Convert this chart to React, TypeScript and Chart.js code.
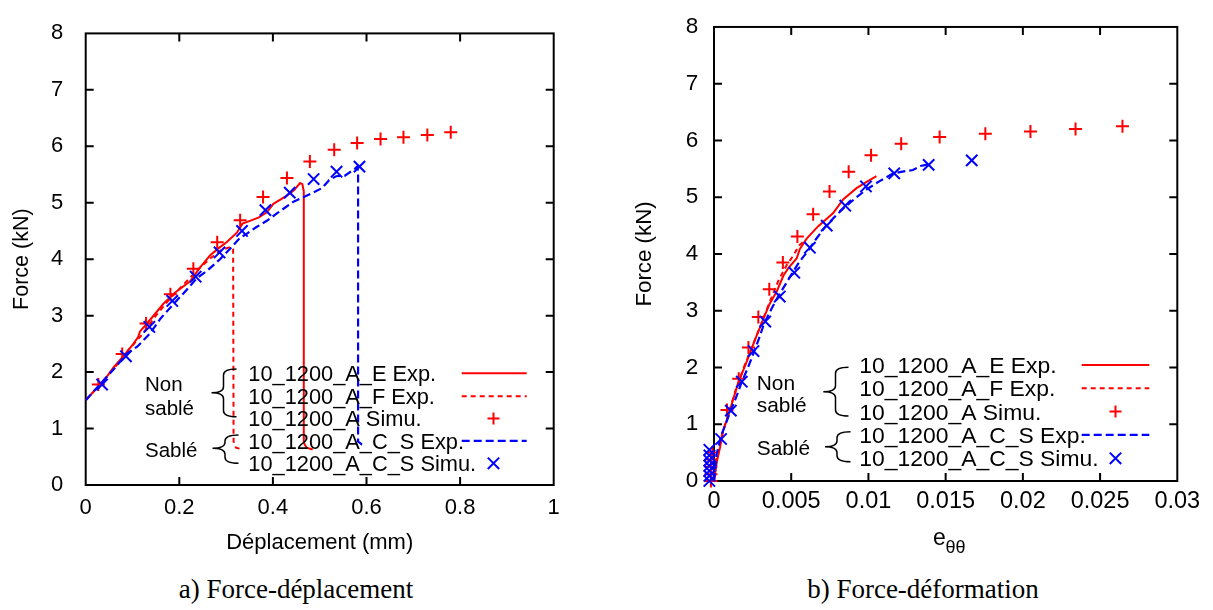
import React, { useEffect, useRef } from "react";
import { Chart, registerables } from "chart.js";
Chart.register(...registerables);

const SANS = "'Liberation Sans', Arial, Helvetica, sans-serif";
const SERIF = "'Liberation Serif', 'Times New Roman', Times, serif";
const RED = "#ff0000";
const BLUE = "#0000ff";

// ---------- Data: a) Force-déplacement ----------
const LEFT_E_EXP: number[][] = [
  [0, 1.5], [0.02, 1.68], [0.04, 1.86], [0.059, 2.08], [0.08, 2.28], [0.102, 2.5], [0.112, 2.62],
  [0.116, 2.72], [0.14, 2.95], [0.166, 3.21], [0.19, 3.4], [0.223, 3.61], [0.245, 3.86], [0.266, 4.07],
  [0.285, 4.2], [0.301, 4.3], [0.323, 4.47], [0.335, 4.63], [0.351, 4.68], [0.37, 4.74], [0.387, 4.83],
  [0.401, 4.98], [0.415, 5.05], [0.429, 5.12], [0.445, 5.22], [0.458, 5.35], [0.463, 5.33], [0.466, 5.2],
  [0.466, 0.75], [0.472, 0.66], [0.485, 0.63],
];
const LEFT_F_EXP: number[][] = [
  [0, 1.5], [0.03, 1.78], [0.06, 2.06], [0.09, 2.38], [0.12, 2.66], [0.15, 3.0], [0.18, 3.3], [0.21, 3.56],
  [0.24, 3.82], [0.27, 4.04], [0.29, 4.16], [0.31, 4.22], [0.315, 4.18], [0.316, 0.77], [0.321, 0.66], [0.336, 0.63],
];
const LEFT_SIMU: number[][] = [
  [0.027, 1.78], [0.078, 2.32], [0.129, 2.86], [0.181, 3.38], [0.23, 3.83], [0.281, 4.3], [0.33, 4.69],
  [0.379, 5.1], [0.43, 5.44], [0.479, 5.73], [0.531, 5.94], [0.58, 6.06], [0.63, 6.13], [0.679, 6.16],
  [0.73, 6.2], [0.78, 6.25],
];
const LEFT_CS_EXP: number[][] = [
  [0, 1.5], [0.031, 1.79], [0.06, 2.05], [0.088, 2.33], [0.11, 2.45], [0.137, 2.68], [0.16, 2.95], [0.187, 3.2],
  [0.215, 3.45], [0.237, 3.66], [0.26, 3.8], [0.287, 4.0], [0.31, 4.2], [0.33, 4.38], [0.344, 4.45], [0.365, 4.57],
  [0.387, 4.68], [0.41, 4.82], [0.444, 5.02], [0.466, 5.1], [0.486, 5.18], [0.505, 5.26], [0.52, 5.4],
  [0.535, 5.47], [0.554, 5.48], [0.575, 5.6], [0.58, 5.64], [0.582, 5.55], [0.582, 0.77], [0.59, 0.72], [0.597, 0.71],
];
const LEFT_CS_SIMU: number[][] = [
  [0.035, 1.78], [0.086, 2.28], [0.136, 2.8], [0.185, 3.26], [0.235, 3.69], [0.286, 4.12], [0.334, 4.5],
  [0.384, 4.87], [0.436, 5.18], [0.487, 5.42], [0.536, 5.55], [0.585, 5.64],
];

// ---------- Data: b) Force-déformation ----------
const RIGHT_E_EXP: number[][] = [
  [0, 0], [0.0001, 0.2], [0.0002, 0.36], [0.00039, 0.59], [0.0006, 0.9], [0.00093, 1.15], [0.00125, 1.45],
  [0.0016, 1.75], [0.0021, 2.09], [0.0025, 2.38], [0.00274, 2.55], [0.003, 2.72], [0.00325, 2.89], [0.0036, 3.12],
  [0.00406, 3.34], [0.0045, 3.62], [0.00481, 3.75], [0.00535, 3.92], [0.00556, 4.09], [0.006, 4.27],
  [0.00675, 4.49], [0.00772, 4.72], [0.00836, 4.96], [0.00923, 5.16], [0.00988, 5.27], [0.01052, 5.37],
];
const RIGHT_F_EXP: number[][] = [
  [0, 0], [0.0002, 0.4], [0.0005, 0.8], [0.0009, 1.15], [0.0014, 1.6], [0.002, 2.05], [0.0026, 2.45],
  [0.0031, 2.8], [0.0036, 3.15], [0.0042, 3.55], [0.0047, 3.8], [0.0052, 4.0], [0.0055, 4.15], [0.0058, 4.22],
];
const RIGHT_SIMU: number[][] = [
  [0.00084, 1.25], [0.0016, 1.8], [0.00223, 2.35], [0.00287, 2.89], [0.00358, 3.38], [0.00446, 3.85],
  [0.0054, 4.31], [0.00642, 4.7], [0.00748, 5.1], [0.00872, 5.45], [0.01017, 5.74], [0.01212, 5.94],
  [0.01461, 6.06], [0.01757, 6.12], [0.02049, 6.16], [0.02341, 6.2], [0.02645, 6.25],
  [-0.0002, 0], [-0.0002, 0.12], [-0.0002, 0.25], [-0.0002, 0.38], [-0.0001, 0.5],
];
const RIGHT_CS_EXP: number[][] = [
  [0, 0], [0.00017, 0.47], [0.00046, 0.8], [0.00082, 1.05], [0.00109, 1.25], [0.0014, 1.45], [0.00179, 1.74],
  [0.0022, 2.0], [0.00249, 2.2], [0.0029, 2.5], [0.00325, 2.78], [0.0037, 3.02], [0.00413, 3.24], [0.0046, 3.45],
  [0.00502, 3.64], [0.0055, 3.85], [0.00604, 4.04], [0.0066, 4.26], [0.00718, 4.47], [0.0078, 4.65],
  [0.00845, 4.82], [0.0091, 4.97], [0.00984, 5.13], [0.0107, 5.28], [0.01161, 5.42], [0.0122, 5.45],
  [0.01288, 5.48], [0.01338, 5.55], [0.0139, 5.58],
];
const RIGHT_CS_SIMU: number[][] = [
  [0.00046, 0.74], [0.00109, 1.24], [0.0018, 1.75], [0.00256, 2.29], [0.00332, 2.81], [0.00426, 3.25],
  [0.0052, 3.67], [0.00621, 4.11], [0.0073, 4.5], [0.0085, 4.85], [0.00984, 5.19], [0.01167, 5.42],
  [0.0139, 5.57], [0.01669, 5.65],
  [-0.0003, 0], [-0.0003, 0.09], [-0.0003, 0.18], [-0.0003, 0.27], [-0.0003, 0.36], [-0.0003, 0.45], [-0.0003, 0.55],
];

// ---------- Ticks and labels ----------
const LEFT_X_TICKS = [0, 0.2, 0.4, 0.6, 0.8, 1];
const RIGHT_X_TICKS = [0, 0.005, 0.01, 0.015, 0.02, 0.025, 0.03];
const Y_TICKS = [0, 1, 2, 3, 4, 5, 6, 7, 8];
const LEGEND_LABELS = [
  "10_1200_A_E Exp.",
  "10_1200_A_F Exp.",
  "10_1200_A Simu.",
  "10_1200_A_C_S Exp.",
  "10_1200_A_C_S Simu.",
];
const GROUP_LABELS = ["Non", "sablé", "Sablé"];
const Y_TITLE = "Force (kN)";
const LEFT_X_TITLE = "Déplacement (mm)";
const RIGHT_X_TITLE_MAIN = "e";
const RIGHT_X_TITLE_SUB = "θθ";
const CAPTIONS = ["a) Force-déplacement", "b) Force-déformation"];

const toPts = (arr: number[][]) => arr.map(([x, y]) => ({ x, y }));

function buildDatasets(e: number[][], f: number[][], simu: number[][], cs: number[][], csSimu: number[][]) {
  return [
    { label: LEGEND_LABELS[0], data: toPts(e), showLine: true, borderColor: RED, borderWidth: 2, pointRadius: 0, pointHitRadius: 0, order: 4 },
    { label: LEGEND_LABELS[1], data: toPts(f), showLine: true, borderColor: RED, borderWidth: 2, borderDash: [5, 4], pointRadius: 0, pointHitRadius: 0, order: 3 },
    { label: LEGEND_LABELS[2], data: toPts(simu), showLine: false, pointStyle: "cross", pointRadius: 6.5, pointBorderColor: RED, pointBackgroundColor: RED, pointBorderWidth: 2, borderColor: RED, order: 2, clip: false },
    { label: LEGEND_LABELS[3], data: toPts(cs), showLine: true, borderColor: BLUE, borderWidth: 2.2, borderDash: [8, 4], pointRadius: 0, pointHitRadius: 0, order: 1 },
    { label: LEGEND_LABELS[4], data: toPts(csSimu), showLine: false, pointStyle: "crossRot", pointRadius: 8, pointBorderColor: BLUE, pointBackgroundColor: BLUE, pointBorderWidth: 2, borderColor: BLUE, order: 0, clip: false },
  ];
}

const framePlugin = {
  id: "gnuFrame",
  beforeDatasetsDraw(chart: any) {
    const { ctx, chartArea: a, scales } = chart;
    const tl = 8;
    ctx.save();
    ctx.strokeStyle = "#000";
    ctx.lineWidth = 2;
    ctx.lineCap = "butt";
    ctx.beginPath();
    scales.x.ticks.forEach((t: any) => {
      const px = scales.x.getPixelForValue(t.value);
      if (px <= a.left + 1 || px >= a.right - 1) return;
      ctx.moveTo(px, a.bottom); ctx.lineTo(px, a.bottom - tl);
      ctx.moveTo(px, a.top); ctx.lineTo(px, a.top + tl);
    });
    scales.y.ticks.forEach((t: any) => {
      const py = scales.y.getPixelForValue(t.value);
      if (py <= a.top + 1 || py >= a.bottom - 1) return;
      ctx.moveTo(a.left, py); ctx.lineTo(a.left + tl, py);
      ctx.moveTo(a.right, py); ctx.lineTo(a.right - tl, py);
    });
    ctx.stroke();
    ctx.strokeRect(a.left, a.top, a.right - a.left, a.bottom - a.top);
    ctx.restore();
  },
};

function drawBrace(ctx: CanvasRenderingContext2D, b: any) {
  const r = 6;
  ctx.beginPath();
  ctx.moveTo(b.end, b.y1);
  ctx.quadraticCurveTo(b.spine, b.y1, b.spine, b.y1 + r);
  ctx.lineTo(b.spine, b.ym - r);
  ctx.quadraticCurveTo(b.spine, b.ym, b.tip, b.ym);
  ctx.quadraticCurveTo(b.spine, b.ym, b.spine, b.ym + r);
  ctx.lineTo(b.spine, b.y2 - r);
  ctx.quadraticCurveTo(b.spine, b.y2, b.end, b.y2);
  ctx.stroke();
}

function makeLegendPlugin(cfg: any) {
  return {
    id: "gnuLegend",
    afterDatasetsDraw(chart: any) {
      const ctx: CanvasRenderingContext2D = chart.ctx;
      ctx.save();
      ctx.fillStyle = "#000";
      ctx.textBaseline = "alphabetic";
      ctx.textAlign = "left";
      ctx.font = `${cfg.groupSize}px ${SANS}`;
      GROUP_LABELS.forEach((g, i) => {
        ctx.fillText(g, cfg.groupX, cfg.groupY[i] + 0.358 * cfg.groupSize);
      });
      ctx.strokeStyle = "#000";
      ctx.lineWidth = 1.5;
      drawBrace(ctx, cfg.brace1);
      drawBrace(ctx, cfg.brace2);
      ctx.font = `${cfg.fontSize}px ${SANS}`;
      LEGEND_LABELS.forEach((lab, i) => {
        ctx.fillText(lab, cfg.textX, cfg.rowsY[i] + 0.358 * cfg.fontSize);
      });
      const [r0, r1, r2, r3, r4] = cfg.rowsY;
      ctx.lineWidth = 2;
      ctx.strokeStyle = RED;
      ctx.setLineDash([]);
      ctx.beginPath(); ctx.moveTo(cfg.sx1, r0); ctx.lineTo(cfg.sx2, r0); ctx.stroke();
      ctx.setLineDash([5, 4]);
      ctx.beginPath(); ctx.moveTo(cfg.sx1, r1); ctx.lineTo(cfg.sx2, r1); ctx.stroke();
      ctx.setLineDash([]);
      ctx.beginPath();
      ctx.moveTo(cfg.mx - 6, r2); ctx.lineTo(cfg.mx + 6, r2);
      ctx.moveTo(cfg.mx, r2 - 6); ctx.lineTo(cfg.mx, r2 + 6);
      ctx.stroke();
      ctx.strokeStyle = BLUE;
      ctx.lineWidth = 2.2;
      ctx.setLineDash([8, 4]);
      ctx.beginPath(); ctx.moveTo(cfg.sx1, r3); ctx.lineTo(cfg.sx2, r3); ctx.stroke();
      ctx.setLineDash([]);
      ctx.lineWidth = 2;
      const d = 5.7;
      ctx.beginPath();
      ctx.moveTo(cfg.mx - d, r4 - d); ctx.lineTo(cfg.mx + d, r4 + d);
      ctx.moveTo(cfg.mx + d, r4 - d); ctx.lineTo(cfg.mx - d, r4 + d);
      ctx.stroke();
      ctx.restore();
    },
  };
}

const subTitlePlugin = {
  id: "subTitle",
  afterDraw(chart: any) {
    const ctx: CanvasRenderingContext2D = chart.ctx;
    ctx.save();
    ctx.fillStyle = "#000";
    ctx.textBaseline = "alphabetic";
    ctx.textAlign = "left";
    ctx.font = `23px ${SANS}`;
    ctx.fillText(RIGHT_X_TITLE_MAIN, 333, 545);
    ctx.font = `18px ${SANS}`;
    ctx.fillText(RIGHT_X_TITLE_SUB, 345.5, 553);
    ctx.restore();
  },
};

function buildConfig(opts: any): any {
  return {
    type: "scatter",
    data: { datasets: opts.datasets },
    options: {
      animation: false,
      responsive: false,
      devicePixelRatio: 1,
      events: [],
      layout: { padding: { left: 0, top: opts.top, right: opts.right, bottom: 0 } },
      plugins: { legend: { display: false }, tooltip: { enabled: false } },
      scales: {
        x: {
          type: "linear",
          min: opts.xTicks[0],
          max: opts.xTicks[opts.xTicks.length - 1],
          grid: { display: false, drawTicks: false },
          border: { display: false },
          afterBuildTicks: (s: any) => { s.ticks = opts.xTicks.map((v: number) => ({ value: v })); },
          afterFit: (s: any) => { s.height = opts.xAxisHeight; },
          ticks: {
            font: { family: SANS, size: opts.xTickSize, lineHeight: 1 },
            color: "#000",
            padding: opts.xTickPad,
            maxRotation: 0,
            autoSkip: false,
            callback: (v: any) => String(v),
          },
          title: {
            display: !!opts.xTitle,
            text: opts.xTitle || "",
            color: "#000",
            font: { family: SANS, size: opts.xTitleSize, lineHeight: 1 },
            padding: { top: 0, bottom: opts.xTitlePad },
          },
        },
        y: {
          type: "linear",
          min: 0,
          max: 8,
          grid: { display: false, drawTicks: false },
          border: { display: false },
          afterBuildTicks: (s: any) => { s.ticks = Y_TICKS.map((v) => ({ value: v })); },
          afterFit: (s: any) => { s.width = opts.yAxisWidth; },
          ticks: {
            font: { family: SANS, size: opts.yTickSize, lineHeight: 1 },
            color: "#000",
            padding: opts.yTickPad,
            autoSkip: false,
            callback: (v: any) => String(v),
          },
          title: {
            display: true,
            text: Y_TITLE,
            color: "#000",
            font: { family: SANS, size: opts.yTitleSize, lineHeight: 1 },
            padding: { top: opts.yTitlePad, bottom: 0 },
          },
        },
      },
    },
    plugins: opts.plugins,
  };
}

const LEFT_LEGEND = {
  fontSize: 21.8, textX: 248.3, rowsY: [373.3, 396.2, 418.6, 440.9, 463.3],
  sx1: 461.7, sx2: 526.7, mx: 493.5,
  groupSize: 20.5, groupX: 145, groupY: [383.3, 408, 450],
  brace1: { tip: 211.5, spine: 223.5, end: 236.5, y1: 369, y2: 416.7, ym: 392.7 },
  brace2: { tip: 212.5, spine: 225, end: 238.5, y1: 435, y2: 463.3, ym: 448.3 },
};
const RIGHT_LEGEND = {
  fontSize: 22.9, textX: 259.3, rowsY: [365, 388.3, 411.6, 434.9, 458.3],
  sx1: 481.7, sx2: 549.3, mx: 515.5,
  groupSize: 20.9, groupX: 156.7, groupY: [382.7, 405, 447.3],
  brace1: { tip: 223.3, spine: 235.5, end: 248.5, y1: 367.3, y2: 416, ym: 391.7 },
  brace2: { tip: 225, spine: 237, end: 250.5, y1: 431.7, y2: 461.7, ym: 446.7 },
};

export default function App() {
  const leftRef = useRef<HTMLCanvasElement>(null);
  const rightRef = useRef<HTMLCanvasElement>(null);

  useEffect(() => {
    const left = new Chart(leftRef.current as HTMLCanvasElement, buildConfig({
      datasets: buildDatasets(LEFT_E_EXP, LEFT_F_EXP, LEFT_SIMU, LEFT_CS_EXP, LEFT_CS_SIMU),
      xTicks: LEFT_X_TICKS,
      top: 16, right: 600 - 553.7,
      xAxisHeight: 560 - 485, yAxisWidth: 85.7,
      xTickSize: 22, xTickPad: 12.3,
      yTickSize: 22, yTickPad: 22.4,
      xTitle: LEFT_X_TITLE, xTitleSize: 22, xTitlePad: 6,
      yTitleSize: 21.5, yTitlePad: 11,
      plugins: [framePlugin, makeLegendPlugin(LEFT_LEGEND)],
    }));
    const right = new Chart(rightRef.current as HTMLCanvasElement, buildConfig({
      datasets: buildDatasets(RIGHT_E_EXP, RIGHT_F_EXP, RIGHT_SIMU, RIGHT_CS_EXP, RIGHT_CS_SIMU),
      xTicks: RIGHT_X_TICKS,
      top: 17, right: 613 - 577.3,
      xAxisHeight: 560 - 481, yAxisWidth: 114,
      xTickSize: 23.5, xTickPad: 9,
      yTickSize: 22.5, yTickPad: 15.7,
      xTitle: "", xTitleSize: 22, xTitlePad: 0,
      yTitleSize: 22.3, yTitlePad: 33.8,
      plugins: [framePlugin, makeLegendPlugin(RIGHT_LEGEND), subTitlePlugin],
    }));
    return () => { left.destroy(); right.destroy(); };
  }, []);

  const captionStyle = (cx: number): React.CSSProperties => ({
    position: "absolute", left: cx - 200, width: 400, top: 575.7, textAlign: "center",
    fontFamily: SERIF, fontSize: 27, lineHeight: "27px", color: "#000", whiteSpace: "nowrap",
  });

  return (
    <div style={{ position: "absolute", left: 0, top: 0, width: 1213, height: 610, background: "#fff", overflow: "hidden" }}>
      <canvas ref={leftRef} width={600} height={560} style={{ position: "absolute", left: 0, top: 0, width: 600, height: 560 }} />
      <canvas ref={rightRef} width={613} height={560} style={{ position: "absolute", left: 600, top: 0, width: 613, height: 560 }} />
      <div style={captionStyle(296)}>{CAPTIONS[0]}</div>
      <div style={captionStyle(923)}>{CAPTIONS[1]}</div>
    </div>
  );
}
